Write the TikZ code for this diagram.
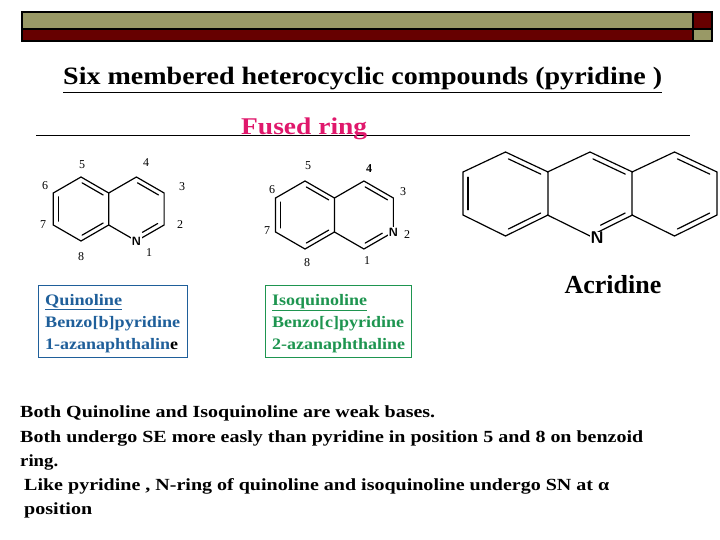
\documentclass[tikz,border=0pt]{standalone}
\usepackage{fontspec}
\setmainfont{Liberation Serif}
\usetikzlibrary{calc}
\begin{document}
\begin{tikzpicture}[x=1pt,y=-1pt,
  bond/.style={line width=1.2pt,line cap=round},
  lbl/.style={font=\fontsize{12}{12}\selectfont,inner sep=0pt},
  infobox/.style={draw,line width=0.8pt,minimum width=149pt,minimum height=72pt,anchor=north west,inner sep=0pt},
  infotext/.style={font=\bfseries\fontsize{16}{16}\selectfont,anchor=base west,inner sep=0pt},
  body/.style={font=\bfseries\fontsize{17}{17}\selectfont,anchor=base west,inner sep=0pt}]
\definecolor{olive}{HTML}{999966}
\definecolor{maroon}{HTML}{660000}
\definecolor{qblue}{HTML}{1F5F9A}
\definecolor{igreen}{HTML}{1E9550}
\definecolor{fpink}{HTML}{E0186C}
\useasboundingbox (0,0) rectangle (720,540);
% top bar
\path[fill=olive,draw=black,line width=1.2pt] (22,12) rectangle (693,29);
\path[fill=maroon,draw=black,line width=1.2pt] (22,29) rectangle (693,41);
\path[fill=maroon,draw=black,line width=1.2pt] (693,12) rectangle (712,29);
\path[fill=olive,draw=black,line width=1.2pt] (693,29) rectangle (712,41);
% title
\node[inner sep=0pt,anchor=base west] (title) at (63,85) {\resizebox{599pt}{\height}{\bfseries\fontsize{25}{25}\selectfont\underline{Six membered heterocyclic compounds (pyridine )}}};
\draw[line width=1pt] (36,136) -- (690,136);
\node[inner sep=0pt,anchor=base west,text=fpink] (fused) at (241,135) {\resizebox{126pt}{\height}{\bfseries\fontsize{24}{24}\selectfont Fused ring}};
% ---- Quinoline
\foreach \i/\a in {1/-90,2/-30,3/30,4/90,5/150,6/210}{
  \coordinate (qa\i) at ($(81,209)+(\a:32)$);
  \coordinate (qb\i) at ($(136.4,209)+(\a:32)$);
}
\draw[bond] (qa1)--(qa2)--(qa3)--(qa4)--(qa5)--(qa6)--cycle;
\draw[bond] (qb6)--(qb1)--(qb2)--(qb3)--(qb4)--(qb5);
\draw[bond] ($(qa5)!0.12!(qa6)+(5,0)$)--($(qa6)!0.12!(qa5)+(5,0)$);
\draw[bond] ($(qa1)!0.12!(qa2)!4.5pt!-90:(qa2)$)--($(qa2)!0.12!(qa1)!4.5pt!90:(qa1)$);
\draw[bond] ($(qa3)!0.12!(qa4)!4.5pt!-90:(qa4)$)--($(qa4)!0.12!(qa3)!4.5pt!90:(qa3)$);
\draw[bond] ($(qb1)!0.12!(qb2)!4.5pt!-90:(qb2)$)--($(qb2)!0.12!(qb1)!4.5pt!90:(qb1)$);
\draw[bond] ($(qb3)!0.15!(qb4)!4.5pt!-90:(qb4)$)--($(qb4)!0.3!(qb3)!4.5pt!90:(qb3)$);
\node[fill=white,inner sep=0.5pt,font=\bfseries\sffamily\fontsize{12}{12}\selectfont] (qN) at (qb4) {N};
\node[lbl] (q5) at (82,165) {5};
\node[lbl] (q4) at (146,163) {4};
\node[lbl] (q3) at (182,187) {3};
\node[lbl] (q2) at (180,225) {2};
\node[lbl] (q1) at (149,253) {1};
\node[lbl] (q8) at (81,257) {8};
\node[lbl] (q7) at (43,225) {7};
\node[lbl] (q6) at (45,186) {6};
% ---- Isoquinoline
\foreach \i/\a in {1/-90,2/-30,3/30,4/90,5/150,6/210}{
  \coordinate (ia\i) at ($(305,215)+(\a:34)$);
  \coordinate (ib\i) at ($(363.9,215)+(\a:34)$);
}
\draw[bond] (ia1)--(ia2)--(ia3)--(ia4)--(ia5)--(ia6)--cycle;
\draw[bond] (ib6)--(ib1)--(ib2)--(ib3)--(ib4)--(ib5);
\draw[bond] ($(ia5)!0.12!(ia6)+(5,0)$)--($(ia6)!0.12!(ia5)+(5,0)$);
\draw[bond] ($(ia1)!0.12!(ia2)!4.5pt!-90:(ia2)$)--($(ia2)!0.12!(ia1)!4.5pt!90:(ia1)$);
\draw[bond] ($(ia3)!0.12!(ia4)!4.5pt!-90:(ia4)$)--($(ia4)!0.12!(ia3)!4.5pt!90:(ia3)$);
\draw[bond] ($(ib1)!0.12!(ib2)!4.5pt!-90:(ib2)$)--($(ib2)!0.12!(ib1)!4.5pt!90:(ib1)$);
\draw[bond] ($(ib3)!0.3!(ib4)!4.5pt!-90:(ib4)$)--($(ib4)!0.12!(ib3)!4.5pt!90:(ib3)$);
\node[fill=white,inner sep=0.5pt,font=\bfseries\sffamily\fontsize{12}{12}\selectfont] (iN) at (ib3) {N};
\node[lbl] (i5) at (308,166) {5};
\node[lbl,font=\bfseries\fontsize{12}{12}\selectfont] (i4) at (369,169) {4};
\node[lbl] (i3) at (403,192) {3};
\node[lbl] (i2) at (407,235) {2};
\node[lbl] (i1) at (367,261) {1};
\node[lbl] (i8) at (307,263) {8};
\node[lbl] (i7) at (267,231) {7};
\node[lbl] (i6) at (272,190) {6};
% ---- Acridine
\foreach \c/\cx in {l/505.5,m/590,r/674.5}{
  \coordinate (a\c1) at (\cx,152);
  \coordinate (a\c2) at (\cx+42.5,172);
  \coordinate (a\c3) at (\cx+42.5,215);
  \coordinate (a\c4) at (\cx,236);
  \coordinate (a\c5) at (\cx-42.5,215);
  \coordinate (a\c6) at (\cx-42.5,172);
}
\draw[bond] (al1)--(al2)--(al3)--(al4)--(al5)--(al6)--cycle;
\draw[bond] (ar1)--(ar2)--(ar3)--(ar4)--(ar5)--(ar6)--cycle;
\draw[bond] (am6)--(am1)--(am2);
\draw[bond] (am5)--(am4)--(am3);
\draw[bond] ($(al5)!0.12!(al6)+(5,0)$)--($(al6)!0.12!(al5)+(5,0)$);
\draw[bond] ($(al1)!0.12!(al2)!5pt!-90:(al2)$)--($(al2)!0.12!(al1)!5pt!90:(al1)$);
\draw[bond] ($(al3)!0.12!(al4)!5pt!-90:(al4)$)--($(al4)!0.12!(al3)!5pt!90:(al3)$);
\draw[bond] ($(am1)!0.12!(am2)!5pt!-90:(am2)$)--($(am2)!0.12!(am1)!5pt!90:(am1)$);
\draw[bond] ($(am3)!0.12!(am4)!5pt!-90:(am4)$)--($(am4)!0.3!(am3)!5pt!90:(am3)$);
\draw[bond] ($(ar1)!0.12!(ar2)!5pt!-90:(ar2)$)--($(ar2)!0.12!(ar1)!5pt!90:(ar1)$);
\draw[bond] ($(ar3)!0.12!(ar4)!5pt!-90:(ar4)$)--($(ar4)!0.12!(ar3)!5pt!90:(ar3)$);
\node[fill=white,inner sep=0.5pt,font=\bfseries\sffamily\fontsize{17}{17}\selectfont] (aN) at (597,238) {N};
\node[inner sep=0pt,font=\bfseries\fontsize{26}{26}\selectfont] (acr) at (613,285) {Acridine};
% ---- boxes
\node[infobox,draw=qblue] (qbox) at (38,285) {};
\node[infotext,text=qblue] (qt1) at (45,305) {\resizebox{77pt}{\height}{\underline{Quinoline}}};
\node[infotext,text=qblue] (qt2) at (45,327) {\resizebox{135pt}{\height}{Benzo[b]pyridine}};
\node[infotext,text=qblue] (qt3) at (45,349) {\resizebox{133pt}{\height}{1-azanaphthalin\textcolor{black}{e}}};
\node[infobox,draw=igreen,minimum width=146pt] (ibox) at (265,285) {};
\node[infotext,text=igreen] (it1) at (272,305) {\resizebox{95pt}{\height}{\underline{Isoquinoline}}};
\node[infotext,text=igreen] (it2) at (272,327) {\resizebox{132pt}{\height}{Benzo[c]pyridine}};
\node[infotext,text=igreen] (it3) at (272,349) {\resizebox{133pt}{\height}{2-azanaphthaline}};
% ---- body
\node[body] (b1) at (20,417) {\resizebox{415pt}{\height}{Both Quinoline and Isoquinoline are weak bases.}};
\node[body] (b2) at (20,442) {\resizebox{623pt}{\height}{Both undergo SE more easly than pyridine in position 5 and 8 on benzoid}};
\node[body] (b3) at (20,466) {\resizebox{38pt}{\height}{ring.}};
\node[body] (b4) at (24,490) {\resizebox{585pt}{\height}{Like pyridine , N-ring of quinoline and isoquinoline undergo SN at α}};
\node[body] (b5) at (24,514) {\resizebox{68pt}{\height}{position}};
\end{tikzpicture}
\end{document}
